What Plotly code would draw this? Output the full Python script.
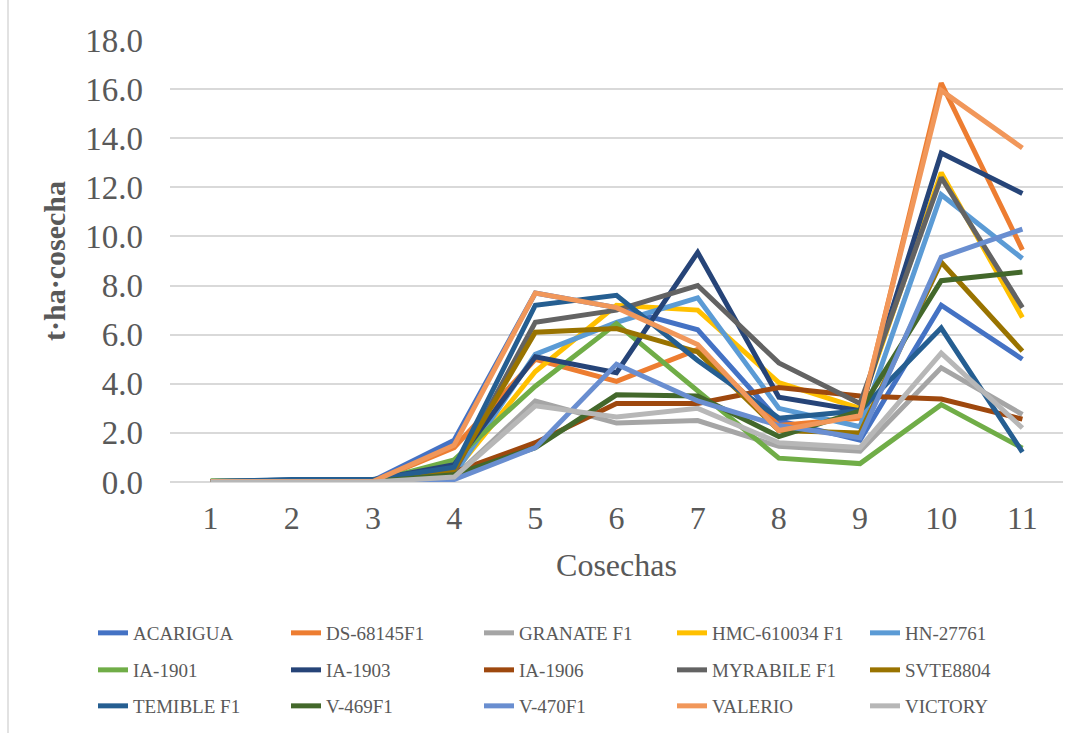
import plotly.graph_objects as go

# Harvest numbers (categories on the x axis)
cosechas = ["1", "2", "3", "4", "5", "6", "7", "8", "9", "10", "11"]

# Yield per harvest (t·ha per harvest) for each variety
acarigua = [0.02, 0.05, 0.05, 1.7, 7.7, 7.1, 6.2, 2.5, 1.7, 7.2, 5.0]
ds_68145f1 = [0.02, 0.03, 0.03, 1.4, 5.0, 4.1, 5.4, 2.3, 2.6, 16.25, 9.45]
granate_f1 = [0.0, 0.0, 0.0, 0.2, 3.3, 2.4, 2.5, 1.45, 1.25, 4.65, 2.75]
hmc_610034 = [0.02, 0.02, 0.02, 0.4, 4.5, 7.2, 7.0, 4.05, 3.0, 12.6, 6.7]
hn_27761 = [0.02, 0.02, 0.02, 0.3, 5.2, 6.5, 7.5, 3.0, 2.25, 11.7, 9.1]
ia_1901 = [0.05, 0.02, 0.02, 0.9, 3.9, 6.45, 3.7, 0.97, 0.75, 3.15, 1.38]
ia_1903 = [0.02, 0.08, 0.08, 0.7, 5.1, 4.45, 9.35, 3.45, 2.9, 13.4, 11.75]
ia_1906 = [0.02, 0.02, 0.02, 0.4, 1.6, 3.2, 3.2, 3.85, 3.5, 3.38, 2.56]
myrabile_f1 = [0.02, 0.05, 0.05, 0.4, 6.5, 7.0, 8.0, 4.85, 3.2, 12.4, 7.1]
svte8804 = [0.02, 0.02, 0.02, 0.5, 6.1, 6.25, 5.3, 2.1, 2.0, 8.95, 5.33]
temible_f1 = [0.02, 0.1, 0.1, 0.6, 7.2, 7.6, 4.95, 2.6, 2.9, 6.27, 1.22]
v_469f1 = [0.02, 0.02, 0.02, 0.3, 1.4, 3.55, 3.5, 1.85, 2.9, 8.2, 8.55]
v_470f1 = [0.0, 0.0, 0.0, 0.1, 1.4, 4.8, 3.3, 2.3, 1.8, 9.15, 10.3]
valerio = [0.02, 0.02, 0.02, 1.5, 7.7, 7.1, 5.6, 2.1, 2.7, 15.95, 13.6]
victory = [0.0, 0.0, 0.0, 0.2, 3.1, 2.65, 3.0, 1.6, 1.4, 5.25, 2.2]

series = [
    ("ACARIGUA", acarigua, "#4472C4"),
    ("DS-68145F1", ds_68145f1, "#ED7D31"),
    ("GRANATE F1", granate_f1, "#A5A5A5"),
    ("HMC-610034 F1", hmc_610034, "#FFC000"),
    ("HN-27761", hn_27761, "#5B9BD5"),
    ("IA-1901", ia_1901, "#70AD47"),
    ("IA-1903", ia_1903, "#264478"),
    ("IA-1906", ia_1906, "#9E480E"),
    ("MYRABILE F1", myrabile_f1, "#636363"),
    ("SVTE8804", svte8804, "#997300"),
    ("TEMIBLE F1", temible_f1, "#255E91"),
    ("V-469F1", v_469f1, "#43682B"),
    ("V-470F1", v_470f1, "#698ED0"),
    ("VALERIO", valerio, "#F1975A"),
    ("VICTORY", victory, "#B7B7B7"),
]

FONT = "Liberation Serif, Times New Roman, serif"
TXT = "#595959"

W, H = 1083, 733
L, R, T, B = 170, 20, 40, 251
PW, PH = W - L - R, H - T - B


def px_x(p):
    return (p - L) / PW


def px_y(p):
    return (H - B - p) / PH


fig = go.Figure()
for i, (name, vals, color) in enumerate(series):
    row = i // 5
    fig.add_trace(go.Scatter(
        x=cosechas, y=vals, name=name, mode="lines",
        line=dict(color=color, width=5),
        legend=["legend", "legend2", "legend3"][row],
    ))

legend_common = dict(
    orientation="h", xanchor="left", yanchor="middle",
    x=px_x(93), entrywidth=148, entrywidthmode="pixels",
    font=dict(family=FONT, size=19, color=TXT),
    bgcolor="rgba(0,0,0,0)", itemclick=False, itemdoubleclick=False,
)

fig.update_layout(
    width=W, height=H,
    margin=dict(l=L, r=R, t=T, b=B, autoexpand=False),
    paper_bgcolor="white", plot_bgcolor="white",
    font=dict(family=FONT, color=TXT),
    legend=dict(legend_common, y=px_y(633)),
    legend2=dict(legend_common, y=px_y(670)),
    legend3=dict(legend_common, y=px_y(706)),
    xaxis=dict(
        type="category", showgrid=False, zeroline=False, showline=False,
        ticks="", ticklabelstandoff=14,
        tickfont=dict(family=FONT, size=32, color=TXT),
        range=[-0.5, 10.5],
        title=dict(text="Cosechas", font=dict(family=FONT, size=32, color=TXT), standoff=18),
    ),
    yaxis=dict(
        range=[0, 18], dtick=2, tickformat=".1f",
        showgrid=True, gridcolor="#D9D9D9", gridwidth=1.5,
        zeroline=True, zerolinecolor="#D9D9D9", zerolinewidth=1.5,
        showline=False, ticks="", ticklabelstandoff=26,
        tickfont=dict(family=FONT, size=33, color=TXT),
        title=dict(text="<b>t·ha·cosecha</b>", font=dict(family=FONT, size=30, color=TXT), standoff=10),
    ),
    shapes=[dict(type="line", xref="paper", yref="paper",
                 x0=px_x(8), x1=px_x(8), y0=px_y(0), y1=px_y(733),
                 line=dict(color="#D9D9D9", width=1.5))],
)

fig.write_html("out.html")
